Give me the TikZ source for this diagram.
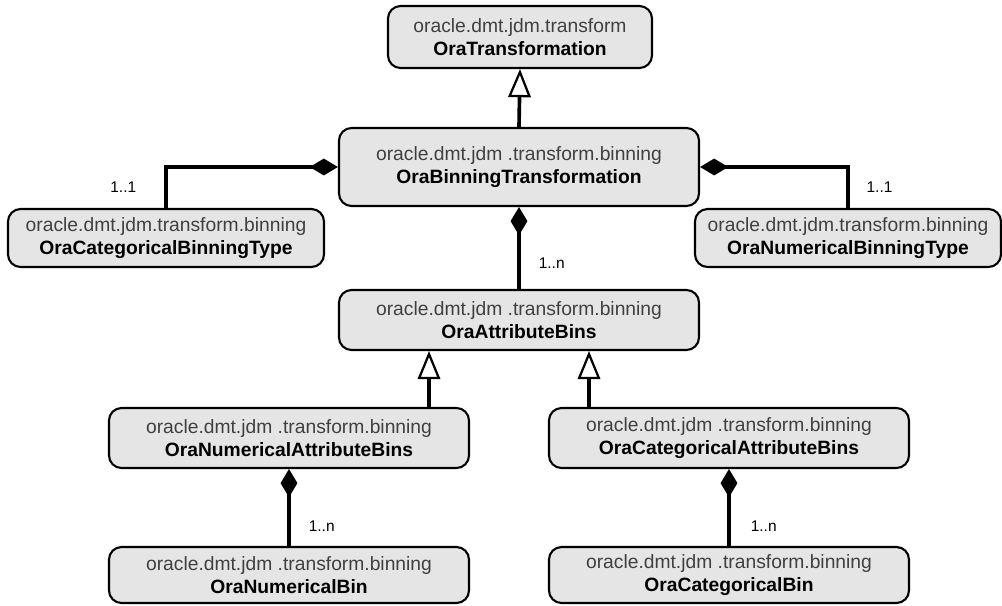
\documentclass[tikz,border=0pt]{standalone}
\usepackage{fontspec}
\setmainfont{Liberation Sans}
\usetikzlibrary{arrows.meta,positioning}
\newcommand{\pkg}[1]{{\color{black!75}#1}\\}
\tikzset{cls/.style  = {rectangle, rounded corners=9pt, draw, line width=1.5pt, fill=black!10,
                        align=center, inner sep=0pt, minimum height=1.5cm,
                        font=\fontsize{13.7pt}{16.5pt}\selectfont},
         comp/.style = {line width=2.6pt, -{Diamond[length=20pt, width=12pt]}},
         gen/.style  = {line width=2.6pt, -{Triangle[open, length=20pt, width=16pt, line width=1.6pt]}},
         mult/.style = {inner sep=0pt, font=\fontsize{11pt}{13pt}\selectfont}}

\begin{document}
\begin{tikzpicture}[x=0.025cm, y=-0.025cm]
    \useasboundingbox (0,0) rectangle (1002,606);
    \node[cls, minimum width=6.6cm, minimum height=1.55cm] (trans) at (520,37)
        {\pkg{oracle.dmt.jdm.transform}\textbf{OraTransformation}};
    \node[cls, minimum width=9cm, minimum height=1.95cm] (binT) at (519,167)
        {\pkg{oracle.dmt.jdm .transform.binning}\textbf{OraBinningTransformation}};
    \node[cls, minimum width=7.9cm, minimum height=1.45cm] (catType) at (166,238)
        {\pkg{oracle.dmt.jdm.transform.binning}\textbf{OraCategoricalBinningType}};
    \node[cls, minimum width=7.65cm, minimum height=1.45cm] (numType) at (848,238)
        {\pkg{oracle.dmt.jdm.transform.binning}\textbf{OraNumericalBinningType}};
    \node[cls, minimum width=9cm] (attrBins) at (519,320)
        {\pkg{oracle.dmt.jdm .transform.binning}\textbf{OraAttributeBins}};
    \node[cls, minimum width=9cm] (numAttr) at (289,438)
        {\pkg{oracle.dmt.jdm .transform.binning}\textbf{OraNumericalAttributeBins}};
    \node[cls, minimum width=9cm] (catAttr) at (729,438)
        {\pkg{oracle.dmt.jdm .transform.binning}\textbf{OraCategoricalAttributeBins}};
    \node[cls, minimum width=9cm, minimum height=1.4cm] (numBin) at (289,575)
        {\pkg{oracle.dmt.jdm .transform.binning}\textbf{OraNumericalBin}};
    \node[cls, minimum width=9cm, minimum height=1.4cm] (catBin) at (729,575)
        {\pkg{oracle.dmt.jdm .transform.binning}\textbf{OraCategoricalBin}};
    \coordinate (nj) at (429,408);
    \coordinate (cj) at (589,408);
    % inheritance
    \draw[gen] (binT.north) -- (trans.south);
    \draw[gen] (nj) -- (nj |- attrBins.south);
    \draw[gen] (cj) -- (cj |- attrBins.south);
    % composition
    \draw[comp] (catType.north) |- node[mult, pos=.25, left=0.7cm] {1..1} (binT.west);
    \draw[comp] (numType.north) |- node[mult, pos=.25, right=0.42cm] {1..1} (binT.east);
    \draw[comp] (attrBins.north) -- node[mult, pos=.31, right=0.45cm] {1..n} (binT.south);
    \draw[comp] (numBin.north) -- node[mult, pos=.26, right=0.45cm] {1..n} (numAttr.south);
    \draw[comp] (catBin.north) -- node[mult, pos=.26, right=0.5cm] {1..n} (catAttr.south);
\end{tikzpicture}
\end{document}
